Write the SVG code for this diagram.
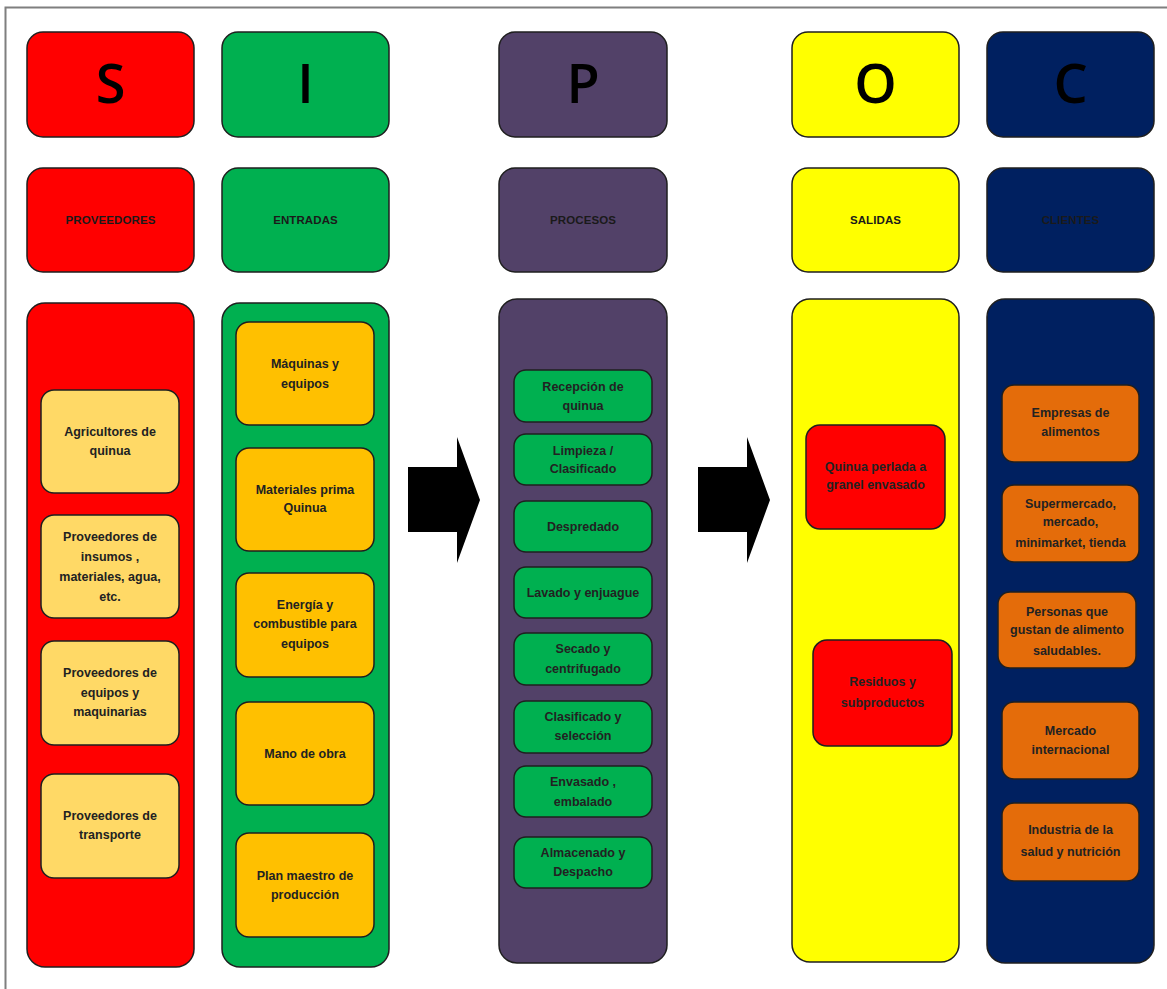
<svg xmlns="http://www.w3.org/2000/svg" width="1167" height="989" viewBox="0 0 1167 989">
  <style>
    .box { stroke: #1f1f1f; stroke-width: 1.5; }
    .red { fill: #FF0000; }
    .green { fill: #00B050; }
    .purple { fill: #524168; }
    .yellow { fill: #FFFF00; }
    .navy { fill: #002060; }
    .cream { fill: #FFD966; }
    .amber { fill: #FFC000; }
    .orange { fill: #E46C0A; }
    .letter { font-family: "Open Sans", "Liberation Sans", sans-serif; font-size: 54px; font-weight: 600; fill: #000; text-anchor: middle; }
    .label { font-family: "Liberation Sans", Arial, sans-serif; font-size: 11.5px; font-weight: bold; fill: #1a1a1a; text-anchor: middle; dominant-baseline: central; letter-spacing: 0.1px; }
    .t { font-family: "Liberation Sans", Arial, sans-serif; font-size: 12.5px; font-weight: bold; fill: #222; text-anchor: middle; dominant-baseline: central; }
  </style>

  <!-- page frame -->
  <path d="M5.5 989 V7.5 H1167" fill="none" stroke="#7f7f7f" stroke-width="2"/>

  <!-- S column -->
  <g id="col-s">
    <rect class="box red" x="27" y="32" width="167" height="105" rx="16"/>
    <text class="letter" x="110.5" y="103">S</text>
    <rect class="box red" x="27" y="168" width="167" height="104" rx="16"/>
    <text class="label" x="110.5" y="220">PROVEEDORES</text>
    <rect class="box red" x="27" y="303" width="167" height="664" rx="18"/>
  </g>
  <g id="s-agricultores">
    <rect class="box cream" x="41" y="390" width="138" height="103" rx="13"/>
    <text class="t" x="110" y="432">Agricultores de</text>
    <text class="t" x="110" y="451">quinua</text>
  </g>
  <g id="s-insumos">
    <rect class="box cream" x="41" y="515" width="138" height="103" rx="13"/>
    <text class="t" x="110" y="537">Proveedores de</text>
    <text class="t" x="110" y="557">insumos ,</text>
    <text class="t" x="110" y="577">materiales, agua,</text>
    <text class="t" x="110" y="597">etc.</text>
  </g>
  <g id="s-equipos">
    <rect class="box cream" x="41" y="641" width="138" height="104" rx="13"/>
    <text class="t" x="110" y="673">Proveedores de</text>
    <text class="t" x="110" y="693">equipos y</text>
    <text class="t" x="110" y="712">maquinarias</text>
  </g>
  <g id="s-transporte">
    <rect class="box cream" x="41" y="774" width="138" height="104" rx="13"/>
    <text class="t" x="110" y="816">Proveedores de</text>
    <text class="t" x="110" y="835">transporte</text>
  </g>

  <!-- I column -->
  <g id="col-i">
    <rect class="box green" x="222" y="32" width="167" height="105" rx="16"/>
    <text class="letter" x="305.5" y="103">I</text>
    <rect class="box green" x="222" y="168" width="167" height="104" rx="16"/>
    <text class="label" x="305.5" y="220">ENTRADAS</text>
    <rect class="box green" x="222" y="303" width="167" height="664" rx="18"/>
  </g>
  <g id="i-maquinas">
    <rect class="box amber" x="236" y="322" width="138" height="103" rx="13"/>
    <text class="t" x="305" y="364">Máquinas y</text>
    <text class="t" x="305" y="384">equipos</text>
  </g>
  <g id="i-materiales">
    <rect class="box amber" x="236" y="448" width="138" height="103" rx="13"/>
    <text class="t" x="305" y="490">Materiales prima</text>
    <text class="t" x="305" y="508">Quinua</text>
  </g>
  <g id="i-energia">
    <rect class="box amber" x="236" y="573" width="138" height="104" rx="13"/>
    <text class="t" x="305" y="605">Energía y</text>
    <text class="t" x="305" y="624">combustible para</text>
    <text class="t" x="305" y="644">equipos</text>
  </g>
  <g id="i-mano-obra">
    <rect class="box amber" x="236" y="702" width="138" height="103" rx="13"/>
    <text class="t" x="305" y="754">Mano de obra</text>
  </g>
  <g id="i-plan">
    <rect class="box amber" x="236" y="833" width="138" height="104" rx="13"/>
    <text class="t" x="305" y="876">Plan maestro de</text>
    <text class="t" x="305" y="895">producción</text>
  </g>

  <!-- P column -->
  <g id="col-p">
    <rect class="box purple" x="499" y="32" width="168" height="105" rx="16"/>
    <text class="letter" x="583" y="103">P</text>
    <rect class="box purple" x="499" y="168" width="168" height="104" rx="16"/>
    <text class="label" x="583" y="220">PROCESOS</text>
    <rect class="box purple" x="499" y="299" width="168" height="664" rx="18"/>
  </g>
  <g id="p-recepcion">
    <rect class="box green" x="514" y="370" width="138" height="52" rx="12"/>
    <text class="t" x="583" y="387">Recepción de</text>
    <text class="t" x="583" y="406">quinua</text>
  </g>
  <g id="p-limpieza">
    <rect class="box green" x="514" y="434" width="138" height="51" rx="12"/>
    <text class="t" x="583" y="451">Limpieza /</text>
    <text class="t" x="583" y="469">Clasificado</text>
  </g>
  <g id="p-despredado">
    <rect class="box green" x="514" y="501" width="138" height="51" rx="12"/>
    <text class="t" x="583" y="527">Despredado</text>
  </g>
  <g id="p-lavado">
    <rect class="box green" x="514" y="567" width="138" height="51" rx="12"/>
    <text class="t" x="583" y="593">Lavado y enjuague</text>
  </g>
  <g id="p-secado">
    <rect class="box green" x="514" y="633" width="138" height="52" rx="12"/>
    <text class="t" x="583" y="649">Secado y</text>
    <text class="t" x="583" y="669">centrifugado</text>
  </g>
  <g id="p-clasificado">
    <rect class="box green" x="514" y="701" width="138" height="52" rx="12"/>
    <text class="t" x="583" y="717">Clasificado y</text>
    <text class="t" x="583" y="736">selección</text>
  </g>
  <g id="p-envasado">
    <rect class="box green" x="514" y="766" width="138" height="51" rx="12"/>
    <text class="t" x="583" y="782">Envasado ,</text>
    <text class="t" x="583" y="802">embalado</text>
  </g>
  <g id="p-almacenado">
    <rect class="box green" x="514" y="837" width="138" height="51" rx="12"/>
    <text class="t" x="583" y="853">Almacenado y</text>
    <text class="t" x="583" y="872">Despacho</text>
  </g>

  <!-- O column -->
  <g id="col-o">
    <rect class="box yellow" x="792" y="32" width="167" height="105" rx="16"/>
    <text class="letter" x="875.5" y="103">O</text>
    <rect class="box yellow" x="792" y="168" width="167" height="104" rx="16"/>
    <text class="label" x="875.5" y="220">SALIDAS</text>
    <rect class="box yellow" x="792" y="299" width="167" height="663" rx="18"/>
  </g>
  <g id="o-quinua">
    <rect class="box red" x="806" y="425" width="139" height="104" rx="14"/>
    <text class="t" x="875.5" y="467">Quinua perlada a</text>
    <text class="t" x="875.5" y="485">granel envasado</text>
  </g>
  <g id="o-residuos">
    <rect class="box red" x="813" y="640" width="139" height="106" rx="14"/>
    <text class="t" x="882.5" y="682">Residuos y</text>
    <text class="t" x="882.5" y="703">subproductos</text>
  </g>

  <!-- C column -->
  <g id="col-c">
    <rect class="box navy" x="987" y="32" width="167" height="105" rx="16"/>
    <text class="letter" x="1070.5" y="103">C</text>
    <rect class="box navy" x="987" y="168" width="167" height="104" rx="16"/>
    <text class="label" x="1070.5" y="220">CLIENTES</text>
    <rect class="box navy" x="987" y="299" width="167" height="664" rx="18"/>
  </g>
  <g id="c-empresas">
    <rect class="box orange" x="1002" y="385" width="137" height="77" rx="12"/>
    <text class="t" x="1070.5" y="413">Empresas de</text>
    <text class="t" x="1070.5" y="432">alimentos</text>
  </g>
  <g id="c-supermercado">
    <rect class="box orange" x="1002" y="485" width="137" height="77" rx="12"/>
    <text class="t" x="1070.5" y="504">Supermercado,</text>
    <text class="t" x="1070.5" y="522">mercado,</text>
    <text class="t" x="1070.5" y="543">minimarket, tienda</text>
  </g>
  <g id="c-personas">
    <rect class="box orange" x="998" y="592" width="138" height="76" rx="12"/>
    <text class="t" x="1067" y="612">Personas que</text>
    <text class="t" x="1067" y="630">gustan de alimento</text>
    <text class="t" x="1067" y="651">saludables.</text>
  </g>
  <g id="c-mercado">
    <rect class="box orange" x="1002" y="702" width="137" height="77" rx="12"/>
    <text class="t" x="1070.5" y="731">Mercado</text>
    <text class="t" x="1070.5" y="750">internacional</text>
  </g>
  <g id="c-industria">
    <rect class="box orange" x="1002" y="803" width="137" height="78" rx="12"/>
    <text class="t" x="1070.5" y="830">Industria de la</text>
    <text class="t" x="1070.5" y="852">salud y nutrición</text>
  </g>

  <!-- flow arrows between columns -->
  <g id="connectors" fill="#000">
    <polygon points="408,467 457,467 457,437 480,500 457,563 457,532 408,532"/>
    <polygon points="698,467 747,467 747,437 770,500 747,563 747,532 698,532"/>
  </g>
</svg>
